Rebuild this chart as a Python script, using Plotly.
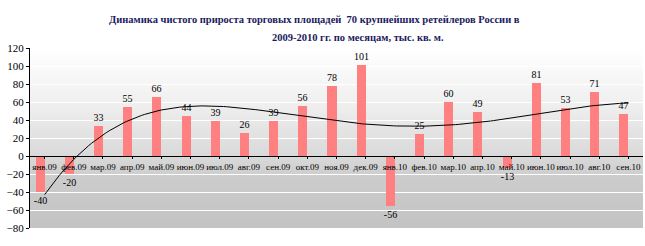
import base64
import numpy as np
import plotly.graph_objects as go

months = ["янв.09", "фев.09", "мар.09", "апр.09", "май.09", "июн.09", "июл.09",
          "авг.09", "сен.09", "окт.09", "ноя.09", "дек.09", "янв.10", "фев.10",
          "мар.10", "апр.10", "май.10", "июн.10", "июл.10", "авг.10", "сен.10"]
values = [-40, -20, 33, 55, 66, 44, 39, 26, 39, 56, 78, 101, -56, 25, 60, 49, -13, 81, 53, 71, 47]
y_ticks = [-80, -60, -40, -20, 0, 20, 40, 60, 80, 100, 120]
title_line1 = "Динамика чистого прироста торговых площадей  70 крупнейших ретейлеров России в"
title_line2 = "2009-2010 гг. по месяцам, тыс. кв. м."

# polynomial trend line (as in the Excel chart)
idx = np.arange(len(values))
coef = np.polyfit(idx, values, 4)
xs = np.linspace(0, len(values) - 1, 200)
ys = np.polyval(coef, xs)

FONT = "Liberation Serif"

svg = ('<svg xmlns="http://www.w3.org/2000/svg" width="10" height="100" viewBox="0 0 10 100" '
       'preserveAspectRatio="none"><defs><linearGradient id="g" x1="0" y1="0" x2="0" y2="1">'
       '<stop offset="0" stop-color="#ffffff"/><stop offset="0.3" stop-color="#f0f0f0"/>'
       '<stop offset="0.6" stop-color="#d9d9d9"/><stop offset="0.72" stop-color="#cccccc"/>'
       '<stop offset="1" stop-color="#c3c3c3"/></linearGradient></defs>'
       '<rect width="10" height="100" fill="url(#g)"/></svg>')
svg_uri = "data:image/svg+xml;base64," + base64.b64encode(svg.encode()).decode()

fig = go.Figure()
fig.add_trace(go.Bar(
    x=idx, y=values, width=0.31, offset=-0.31,
    marker=dict(color="#ff8080", line=dict(width=0)),
    text=[str(v) for v in values], textposition="outside",
    textfont=dict(family=FONT, size=10, color="black"),
    constraintext="none", cliponaxis=False, showlegend=False,
))
fig.add_trace(go.Scatter(
    x=xs, y=ys, mode="lines", line=dict(color="black", width=1),
    showlegend=False, hoverinfo="skip",
))

fig.update_layout(
    width=645, height=246,
    margin=dict(l=30, r=2, t=48, b=18),
    paper_bgcolor="white", plot_bgcolor="rgba(0,0,0,0)",
    bargap=0,
    images=[dict(source=svg_uri, xref="paper", yref="paper", x=0, y=1,
                 sizex=1, sizey=1, sizing="stretch", layer="below",
                 xanchor="left", yanchor="top")],
    xaxis=dict(
        range=[-0.5, len(values) - 0.5],
        tickmode="array", tickvals=list(idx), ticktext=months,
        anchor="free", position=80 / 200, tickangle=0,
        showline=True, linecolor="black", linewidth=1,
        ticks="outside", ticklen=2, tickcolor="black",
        showgrid=False, zeroline=False,
        tickfont=dict(family=FONT, size=9, color="black"),
    ),
    yaxis=dict(
        range=[-80, 120], tickvals=y_ticks,
        showline=True, linecolor="black", linewidth=1,
        ticks="outside", ticklen=3, tickcolor="black",
        showgrid=True, gridcolor="white", gridwidth=1, zeroline=False,
        tickfont=dict(family=FONT, size=11, color="black"),
    ),
    annotations=[
        dict(text="<b>" + title_line1 + "</b>", xref="paper", yref="paper",
             x=(314.5 - 30) / 613, y=1, yshift=29, showarrow=False,
             xanchor="center", yanchor="middle",
             font=dict(family=FONT, size=10.5, color="#1a1a5e")),
        dict(text="<b>" + title_line2 + "</b>", xref="paper", yref="paper",
             x=(358 - 30) / 613, y=1, yshift=11, showarrow=False,
             xanchor="center", yanchor="middle",
             font=dict(family=FONT, size=10.5, color="#1a1a5e")),
    ],
)

fig.write_html("out.html")
